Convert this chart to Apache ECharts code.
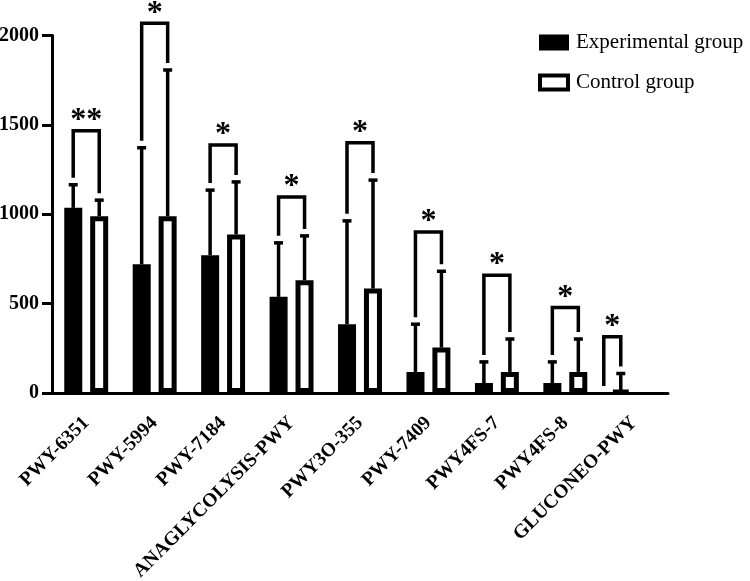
<!DOCTYPE html>
<html>
<head>
<meta charset="utf-8">
<script src="https://cdn.jsdelivr.net/npm/echarts@6/dist/echarts.min.js"></script>
<style>
  html, body { margin: 0; padding: 0; background: #fff; }
  #chart { width: 750px; height: 581px; }
</style>
</head>
<body>
<div id="chart"></div>
<script>
const categories = ['PWY-6351', 'PWY-5994', 'PWY-7184', 'ANAGLYCOLYSIS-PWY', 'PWY3O-355', 'PWY-7409', 'PWY4FS-7', 'PWY4FS-8', 'GLUCONEO-PWY']
const expMean = [1036, 720, 771, 538, 385, 118, 56, 56, 12]
const expSD = [129, 652, 364, 302, 578, 267, 118, 118, 97]
const ctrlMean = [989, 989, 887, 631, 584, 254, 118, 118, 0]
const ctrlSD = [90, 818, 294, 248, 607, 427, 184, 184, 0]
// height of the significance bracket and its label
const bracketTop = [1467, 2068, 1387, 1097, 1400, 901, 659, 478, 314]
const sigLabel = ['**', '*', '*', '*', '*', '*', '*', '*', '*']
const yTicks = [0, 500, 1000, 1500, 2000]

const BAR_W = 18
const BAR_OFFSET = 13   // half the distance between the two bar centres
const LINE_W = 3.5
const LEG_GAP = 7
const FONT = '"Liberation Serif", "Times New Roman", serif'

let chart = echarts.init(document.getElementById('chart'))

// error bar, only the upper half
function errorRender(sign) {
	return function (params, api) {
		let i = api.value(0)
		let mean = api.value(1)
		let sd = api.value(2)
		if (!sd) return
		let base = api.coord([i, mean])
		let top = api.coord([i, mean + sd])
		let x = base[0] + sign * BAR_OFFSET
		let st = { stroke: '#000', lineWidth: LINE_W }
		return {
			type: 'group',
			children: [
				{ type: 'line', shape: { x1: x, y1: base[1], x2: x, y2: top[1] }, style: st },
				{ type: 'line', shape: { x1: x - 4.5, y1: top[1], x2: x + 4.5, y2: top[1] }, style: st }
			]
		}
	}
}

function bracketRender(params, api) {
	let i = api.value(0)
	let cx = api.coord([i, 0])[0]
	let yTop = api.coord([i, api.value(1)])[1]
	let yl = api.coord([i, api.value(2)])[1] - LEG_GAP
	let yr = api.coord([i, api.value(3)])[1] - LEG_GAP
	let xl = cx - BAR_OFFSET
	let xr = cx + BAR_OFFSET
	// the source figure draws the last bracket narrower and to the left
	if (categories[i] === 'GLUCONEO-PWY') {
		xl = cx - BAR_OFFSET - 17
		xr = cx - BAR_OFFSET
	}
	return {
		type: 'group',
		children: [
			{
				type: 'polyline',
				shape: { points: [[xl, yl], [xl, yTop], [xr, yTop], [xr, yr]] },
				style: { stroke: '#000', fill: null, lineWidth: LINE_W }
			},
			{
				type: 'text',
				style: {
					x: (xl + xr) / 2,
					y: yTop - 10,
					text: sigLabel[i],
					fill: '#000',
					font: 'bold 32px ' + FONT,
					align: 'center',
					verticalAlign: 'middle'
				}
			}
		]
	}
}

let bracketData = categories.map((c, i) => {
	let left = expMean[i] + expSD[i]
	let right = ctrlSD[i] ? ctrlMean[i] + ctrlSD[i] : ctrlMean[i]
	if (c === 'GLUCONEO-PWY') {
		left = 0
		right = expMean[i] + expSD[i]
	}
	return [i, bracketTop[i], left, right]
})

let option = {
	animation: false,
	backgroundColor: '#fff',
	grid: {
		left: 52,
		right: 82,
		top: 35.5,
		bottom: 188,
		outerBoundsMode: 'none'
	},
	legend: {
		orient: 'vertical',
		left: 533,
		top: 27,
		icon: 'rect',
		itemWidth: 28,
		itemHeight: 14,
		itemGap: 19,
		textStyle: {
			fontFamily: FONT,
			fontSize: 21,
			lineHeight: 20,
			color: '#000',
			padding: [0, 0, 0, 3]
		},
		data: [
			{ name: 'Experimental group' },
			{ name: 'Control group', itemStyle: { borderWidth: 4, borderColor: '#000', color: '#fff' } }
		]
	},
	xAxis: {
		type: 'category',
		data: categories,
		axisLine: { lineStyle: { color: '#000', width: 3 } },
		axisTick: { alignWithLabel: true, length: 9, lineStyle: { color: '#000', width: 3 } },
		axisLabel: {
			interval: 0,
			rotate: 45,
			margin: 27,
			color: '#000',
			fontWeight: 'bold',
			fontSize: 19.5,
			fontFamily: FONT
		}
	},
	yAxis: {
		type: 'value',
		min: yTicks[0],
		max: yTicks[yTicks.length - 1],
		interval: yTicks[1] - yTicks[0],
		splitLine: { show: false },
		axisLine: { show: true, lineStyle: { color: '#000', width: 3 } },
		axisTick: { show: true, length: 10, lineStyle: { color: '#000', width: 3 } },
		axisLabel: {
			margin: 13,
			color: '#000',
			fontWeight: 'bold',
			fontSize: 20,
			fontFamily: FONT,
			formatter: v => String(v)
		}
	},
	series: [
		{
			name: 'Experimental group',
			type: 'bar',
			data: expMean,
			barWidth: BAR_W,
			barGap: '44%',
			itemStyle: { color: '#000', borderColor: '#000', borderWidth: 5 }
		},
		{
			name: 'Control group',
			type: 'bar',
			// an empty bar is not drawn at all in the source figure
			data: ctrlMean.map(v => (v === 0 ? '-' : v)),
			barWidth: BAR_W,
			barGap: '44%',
			itemStyle: { color: '#fff', borderColor: '#000', borderWidth: 5 }
		},
		{
			type: 'custom',
			renderItem: errorRender(-1),
			data: categories.map((c, i) => [i, expMean[i], expSD[i]]),
			z: 3
		},
		{
			type: 'custom',
			renderItem: errorRender(1),
			data: categories.map((c, i) => [i, ctrlMean[i], ctrlSD[i]]),
			z: 3
		},
		{
			type: 'custom',
			renderItem: bracketRender,
			data: bracketData,
			clip: false,
			z: 4
		}
	]
}

chart.setOption(option)
</script>
</body>
</html>
